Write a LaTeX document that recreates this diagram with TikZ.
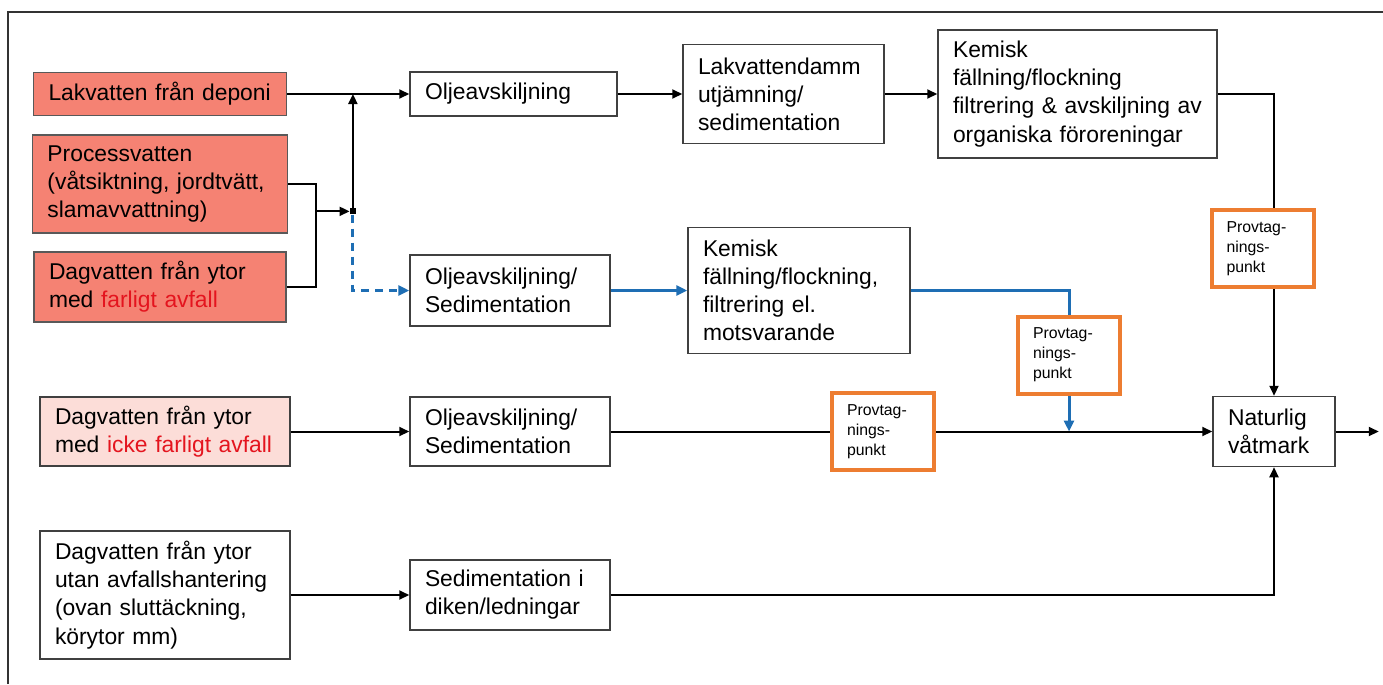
\documentclass[tikz,border=0pt]{standalone}
\usepackage{fontspec}
\setmainfont{Liberation Sans}
\usepackage{tikz}
\usetikzlibrary{positioning,arrows.meta}
\definecolor{hazfill}{RGB}{245,130,115}
\definecolor{lowfill}{RGB}{252,221,216}
\definecolor{hazred}{RGB}{228,20,30}
\definecolor{probeorange}{RGB}{237,125,49}
\definecolor{flowblue}{RGB}{30,110,180}
\tikzset{
  procbox/.style={draw=black!75, line width=0.03cm, inner xsep=0.3cm, inner ysep=0.05cm, align=left, font=\fontsize{13}{16}\selectfont},
  hazbox/.style={procbox, fill=hazfill, draw=black!65},
  probe/.style={draw=probeorange, line width=0.08cm, inner xsep=0.3cm, align=left, text width=1.44cm, minimum height=1.54cm, font=\fontsize{9}{11.3}\selectfont},
  pipe/.style={line width=0.04cm},
  flow/.style={pipe, -{Triangle[length=0.2cm,width=0.18cm]}},
  bflow/.style={color=flowblue, line width=0.06cm, -{Triangle[length=0.22cm,width=0.2cm]}},
  bpipe/.style={color=flowblue, line width=0.06cm},
  jsq/.style={fill=black, inner sep=0pt, minimum size=0.12cm},
}

\begin{document}
\begin{tikzpicture}
  \useasboundingbox (0,0) rectangle (27.66,-13.68);
  \draw [line width=0.04cm, black!80] (0.16,-13.68) -- (0.16,-0.24) -- (27.66,-0.24);
  \node [hazbox, text width=4.46cm, minimum height=0.86cm] (lak) at (3.2,-1.88) {Lakvatten från deponi};
  \node [hazbox, on grid, below=1.8cm of lak, text width=4.5cm, minimum height=1.96cm] (proc) {Processvatten\\(våtsiktning, jordtvätt,\\slamavvattning)};
  \node [hazbox, on grid, below=2.06cm of proc, text width=4.44cm, minimum height=1.4cm] (dag1) {Dagvatten från ytor\\med \textcolor{hazred}{farligt avfall}};
  \node [procbox, fill=lowfill, on grid, below right=2.89cm and 0.1cm of dag1, text width=4.4cm, minimum height=1.38cm] (dag2) {Dagvatten från ytor\\med \textcolor{hazred}{icke farligt avfall}};
  \node [procbox, on grid, below=3.27cm of dag2, text width=4.4cm, minimum height=2.56cm] (dag3) {Dagvatten från ytor\\utan avfallshantering\\(ovan sluttäckning,\\körytor mm)};
  \node [procbox, on grid, right=7.07cm of lak, text width=3.54cm, minimum height=0.88cm] (olje1) {Oljeavskiljning};
  \node [procbox, on grid, below left=3.93cm and 0.07cm of olje1, text width=3.4cm, minimum height=1.42cm] (olje2) {Oljeavskiljning/\\Sedimentation};
  \node [procbox, on grid, right=6.9cm of dag2, text width=3.4cm, minimum height=1.38cm] (olje3) {Oljeavskiljning/\\Sedimentation};
  \node [procbox, on grid, right=6.9cm of dag3, text width=3.4cm, minimum height=1.4cm] (sed) {Sedimentation i\\diken/ledningar};
  \node [procbox, on grid, right=5.4cm of olje1, text width=3.42cm, minimum height=1.98cm] (lakd) {Lakvattendamm\\utjämning/\\sedimentation};
  \node [procbox, on grid, right=5.88cm of lakd, text width=4.98cm, minimum height=2.56cm] (kemt) {Kemisk\\fällning/flockning\\filtrering \& avskiljning av\\organiska föroreningar};
  \node [procbox, on grid, right=5.78cm of olje2, text width=3.84cm, minimum height=2.52cm] (kemm) {Kemisk\\fällning/flockning,\\filtrering el.\\motsvarande};
  \node [procbox, on grid, right=15.28cm of olje3, text width=1.84cm, minimum height=1.4cm] (nat) {Naturlig\\våtmark};
  \node [probe, on grid, above left=3.66cm and 0.23cm of nat] (prov1) {Provtag-\\nings-\\punkt};
  \node [probe, on grid, below right=1.29cm and 5.4cm of kemm] (prov2) {Provtag-\\nings-\\punkt};
  \node [probe, on grid, right=7.46cm of olje3] (prov3) {Provtag-\\nings-\\punkt};
  \node [jsq, on grid, below left=2.28cm and 1.06cm of olje1.west] (jn) {};
  \coordinate [on grid, left=0.74cm of jn] (mrg);
  \coordinate [on grid, right=0.86cm of nat.east] (out);
  \draw [flow] (lak) -- (olje1);
  \draw [flow] (olje1) -- (lakd);
  \draw [flow] (lakd) -- (kemt);
  \draw [pipe] (proc.east) -| (mrg);
  \draw [pipe] (dag1.east) -| (mrg);
  \draw [flow] (mrg) -- (jn);
  \draw [flow] (jn) -- (jn |- lak.east);
  \draw [bflow, dash pattern=on 0.16cm off 0.12cm] (jn) |- (olje2.west);
  \draw [bflow] (olje2) -- (kemm);
  \draw [bpipe] (kemm.east) -| (prov2.north);
  \draw [bflow] (prov2.south) -- (prov2.south |- olje3.east);
  \draw [flow] (dag2) -- (olje3);
  \draw [pipe] (olje3) -- (prov3);
  \draw [flow] (prov3) -- (nat);
  \draw [pipe] (kemt.east) -| (prov1.north -| nat.north);
  \draw [flow] (prov1.south -| nat.north) -- (nat.north);
  \draw [flow] (dag3) -- (sed);
  \draw [flow] (sed.east) -| (nat.south);
  \draw [flow] (nat.east) -- (out);
\end{tikzpicture}
\end{document}
